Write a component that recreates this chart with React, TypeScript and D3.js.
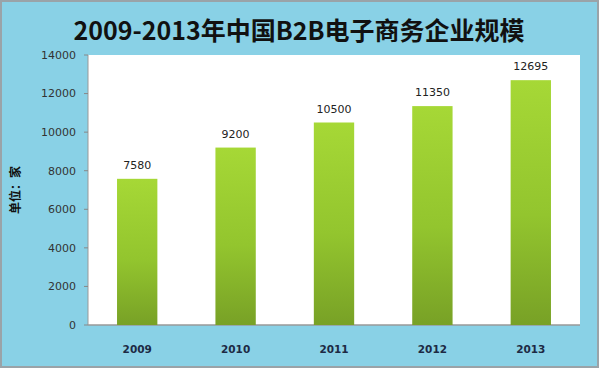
import React from "react";
import * as d3 from "d3";

const years = ["2009", "2010", "2011", "2012", "2013"];
const values = [7580, 9200, 10500, 11350, 12695];
const yTicks = [0, 2000, 4000, 6000, 8000, 10000, 12000, 14000];
const title = "2009-2013年中国B2B电子商务企业规模";
const yLabel = "单位：家";

const W = 599, H = 368;
const plot = { left: 88, right: 580, top: 55, bottom: 325 };

export default function App() {
  const x = d3.scaleBand<string>().domain(years).range([plot.left, plot.right]).paddingInner(0.59).paddingOuter(0.295);
  const y = d3.scaleLinear().domain([0, 14000]).range([plot.bottom, plot.top]);
  const font = "'DejaVu Sans', Verdana, sans-serif";
  return (
    <svg width={W} height={H} style={{ position: "fixed", left: 0, top: 0 }}>
      <defs>
        <linearGradient id="bg" x1="0" y1="0" x2="0" y2="1">
          <stop offset="0" stopColor="#a6d836" />
          <stop offset="0.55" stopColor="#93c52e" />
          <stop offset="1" stopColor="#78a126" />
        </linearGradient>
      </defs>
      <rect x={1} y={1} width={W - 2} height={H - 2} fill="#89d1e6" stroke="#9aa3a8" strokeWidth={2} />
      <text x={299} y={40} textAnchor="middle" fontFamily="'Noto Sans CJK SC', sans-serif" fontWeight="bold" fontSize={25} fill="#111">{title}</text>
      <rect x={plot.left} y={plot.top} width={plot.right - plot.left} height={plot.bottom - plot.top} fill="#ffffff" />
      <line x1={plot.left} x2={plot.right} y1={plot.bottom} y2={plot.bottom} stroke="#999" strokeWidth={1.5} />
      <line x1={plot.left} x2={plot.left} y1={plot.top} y2={plot.bottom} stroke="#999" strokeWidth={1} />
      {yTicks.map(t => (
        <g key={t}>
          <line x1={plot.left - 4} x2={plot.left} y1={y(t)} y2={y(t)} stroke="#888" />
          <text x={76} y={y(t)} dy="0.35em" textAnchor="end" fontFamily={font} fontSize={11} fill="#333">{t}</text>
        </g>
      ))}
      {values.map((v, i) => (
        <g key={years[i]}>
          <rect x={x(years[i])} y={y(v)} width={x.bandwidth()} height={plot.bottom - y(v)} fill="url(#bg)" />
          <text x={(x(years[i]) as number) + x.bandwidth() / 2} y={y(v) - 10} textAnchor="middle" fontFamily={font} fontSize={11} fill="#222">{v}</text>
          <text x={(x(years[i]) as number) + x.bandwidth() / 2} y={353} textAnchor="middle" fontFamily={font} fontWeight="bold" fontSize={10.5} fill="#1d2a44">{years[i]}</text>
        </g>
      ))}
      <text transform={`translate(20, ${190}) rotate(-90)`} textAnchor="middle" fontFamily="'Noto Sans CJK SC', sans-serif" fontWeight="bold" fontSize={12} fill="#111">{yLabel}</text>
    </svg>
  );
}
